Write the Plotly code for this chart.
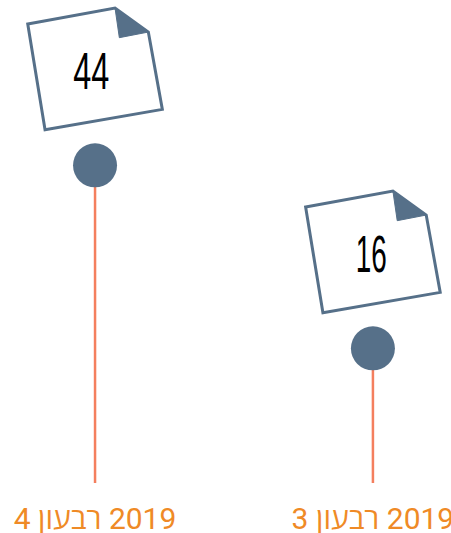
import plotly.graph_objects as go

# Data (\u200e keeps the year on the right of the Hebrew word)
quarters = ['4 \u05e8\u05d1\u05e2\u05d5\u05df \u200e2019', '3 \u05e8\u05d1\u05e2\u05d5\u05df \u200e2019']
values = [44, 16]
value_labels = ['44', '16']
label_shifts = [-4, -1]

slate = '#567089'
coral = '#F47F5E'
orange = '#EF8A26'

# axis ranges set so the stems end on the plot bottom
y_min = -4.6
y_max = 69.3

# Note outline, pixels from the lollipop head
note_path = 'M -67.3 141.4 L 20 157.3 L 53.3 133.3 L 67.3 56 L -50 35.7 Z'
fold_path = 'M 20 157.3 L 53.3 133.3 L 24.3 127.7 Z'

fig = go.Figure()

fig.add_trace(go.Scatter(
    x=quarters,
    y=values,
    mode='markers',
    marker=dict(size=44, color=slate),
    error_y=dict(
        type='data',
        symmetric=False,
        array=[0, 0],
        arrayminus=[v - y_min for v in values],
        color=coral,
        thickness=2.5,
        width=0,
    ),
    hoverinfo='skip',
))

for quarter, value, text, shift in zip(quarters, values, value_labels, label_shifts):
    fig.add_shape(type='path', path=note_path, xsizemode='pixel', ysizemode='pixel',
                  xanchor=quarter, yanchor=value, xref='x', yref='y',
                  fillcolor='white', line=dict(color=slate, width=3))
    fig.add_shape(type='path', path=fold_path, xsizemode='pixel', ysizemode='pixel',
                  xanchor=quarter, yanchor=value, xref='x', yref='y',
                  fillcolor=slate, line=dict(color=slate, width=1))
    fig.add_annotation(x=quarter, y=value, text=text, showarrow=False,
                       xshift=shift, yshift=94,
                       font=dict(family='Liberation Sans', size=51, color='black'))

fig.update_layout(
    width=451,
    height=533,
    margin=dict(l=0, r=0, t=0, b=50),
    paper_bgcolor='white',
    plot_bgcolor='white',
    showlegend=False,
    xaxis=dict(
        type='category',
        categoryorder='array',
        categoryarray=quarters,
        range=[-0.342, 1.281],
        automargin=False,
        showgrid=False,
        zeroline=False,
        showline=False,
        ticks='outside',
        ticklen=9,
        tickcolor='rgba(0,0,0,0)',
        tickfont=dict(family='Roboto, Open Sans, DejaVu Sans', size=30, color=orange),
        tickangle=0,
    ),
    yaxis=dict(range=[y_min, y_max], visible=False, automargin=False),
)

# drop the page margin and squeeze the note numbers to the condensed look
post_script = """
document.body.style.margin = '0';
document.querySelectorAll('.annotation-text').forEach(function (t) {
    t.setAttribute('textLength', t.textContent === '16' ? '31' : '36');
    t.setAttribute('lengthAdjust', 'spacingAndGlyphs');
});
"""

fig.write_html("out.html", config=dict(displayModeBar=False), post_script=post_script)
